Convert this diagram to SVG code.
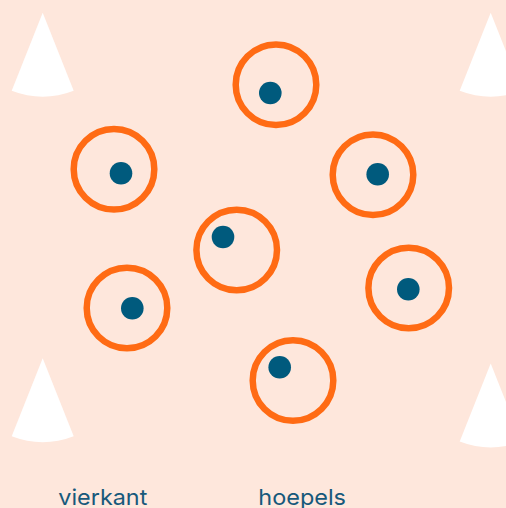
<svg xmlns="http://www.w3.org/2000/svg" xmlns:xlink="http://www.w3.org/1999/xlink" width="506" height="508" viewBox="0 0 506 508">
  <style>
    .ring { fill: none; stroke: #FF6B14; stroke-width: 6.5; }
    .dot { fill: #005A7D; }
    .cone { fill: #FFFFFF; }
    .label { font-family: Inter, "Liberation Sans", sans-serif; font-size: 22px; fill: #17597B; }
  </style>
  <defs>
    <path id="cone" class="cone" d="M 0 0 L -31 78 A 86 86 0 0 0 31 78 Z"/>
  </defs>
  <rect x="0" y="0" width="506" height="508" fill="#FEE7DC"/>
  <g id="cones">
    <use xlink:href="#cone" href="#cone" x="42.7" y="12.7"/>
    <use xlink:href="#cone" href="#cone" x="490.7" y="12.7"/>
    <use xlink:href="#cone" href="#cone" x="42.7" y="358.3"/>
    <use xlink:href="#cone" href="#cone" x="490.7" y="363.5"/>
  </g>
  <g id="connectors"></g>
  <g id="hoop1"><circle class="ring" cx="276" cy="84.7" r="40.3"/><circle class="dot" cx="270.3" cy="93" r="11.3"/></g>
  <g id="hoop2"><circle class="ring" cx="114" cy="169.3" r="40.3"/><circle class="dot" cx="121" cy="173.3" r="11.3"/></g>
  <g id="hoop3"><circle class="ring" cx="373" cy="174.7" r="40.3"/><circle class="dot" cx="377.7" cy="174.3" r="11.3"/></g>
  <g id="hoop4"><circle class="ring" cx="236.7" cy="250" r="40.3"/><circle class="dot" cx="223" cy="237" r="11.3"/></g>
  <g id="hoop5"><circle class="ring" cx="408.7" cy="288" r="40.3"/><circle class="dot" cx="408.3" cy="289.3" r="11.3"/></g>
  <g id="hoop6"><circle class="ring" cx="127" cy="308" r="40.3"/><circle class="dot" cx="132.3" cy="308.3" r="11.3"/></g>
  <g id="hoop7"><circle class="ring" cx="293" cy="380.5" r="40.3"/><circle class="dot" cx="279.7" cy="367.3" r="11.3"/></g>
  <g id="label-vierkant"><text class="label" x="58.3" y="505" textLength="89" lengthAdjust="spacingAndGlyphs">vierkant</text></g>
  <g id="label-hoepels"><text class="label" x="258.3" y="505" textLength="87.7" lengthAdjust="spacingAndGlyphs">hoepels</text></g>
</svg>
